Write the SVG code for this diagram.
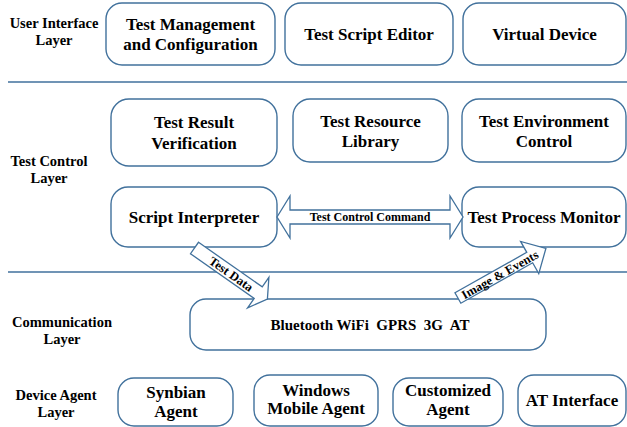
<svg xmlns="http://www.w3.org/2000/svg" width="627" height="427" viewBox="0 0 627 427">
  <style>
    .box { fill: #ffffff; stroke: #41719C; stroke-width: 1.4; }
    .sep { stroke: #41719C; stroke-width: 1.5; fill: none; }
    .arrow { fill: #ffffff; stroke: #41719C; stroke-width: 1.3; stroke-linejoin: miter; }
    text { font-family: "Liberation Serif", "Times New Roman", serif; font-weight: bold; fill: #000000; text-anchor: middle; }
    .node { font-size: 17px; }
    .layer { font-size: 14.5px; }
    .small { font-size: 12px; }
    .tag { font-size: 12.5px; }
    .comm { font-size: 15px; }
  </style>
  <rect width="627" height="427" fill="#ffffff"/>

  <!-- layer separators -->
  <g id="separators">
    <line class="sep" x1="8" y1="82" x2="627" y2="82"/>
    <line class="sep" x1="8" y1="272" x2="627" y2="272"/>
  </g>

  <!-- layer titles -->
  <g id="layer-labels">
    <text class="layer" x="54" y="28">User Interface</text>
    <text class="layer" x="54" y="45">Layer</text>
    <text class="layer" x="49" y="166">Test Control</text>
    <text class="layer" x="49" y="183">Layer</text>
    <text class="layer" x="62" y="327">Communication</text>
    <text class="layer" x="62" y="344">Layer</text>
    <text class="layer" x="56" y="400">Device Agent</text>
    <text class="layer" x="56" y="417">Layer</text>
  </g>

  <!-- user interface layer -->
  <g id="test-management">
    <rect class="box" x="106" y="3" width="169" height="62" rx="16"/>
    <text class="node" x="190.5" y="30">Test Management</text>
    <text class="node" x="190.5" y="50">and Configuration</text>
  </g>
  <g id="test-script-editor">
    <rect class="box" x="285" y="3" width="168" height="62" rx="16"/>
    <text class="node" x="369" y="40">Test Script Editor</text>
  </g>
  <g id="virtual-device">
    <rect class="box" x="463" y="3" width="163" height="62" rx="16"/>
    <text class="node" x="544.5" y="40">Virtual Device</text>
  </g>

  <!-- test control layer -->
  <g id="test-result-verification">
    <rect class="box" x="111" y="99" width="166" height="67" rx="18"/>
    <text class="node" x="194" y="128">Test Result</text>
    <text class="node" x="194" y="149">Verification</text>
  </g>
  <g id="test-resource-library">
    <rect class="box" x="293" y="99" width="155" height="63" rx="17"/>
    <text class="node" x="370.5" y="127">Test Resource</text>
    <text class="node" x="370.5" y="147">Library</text>
  </g>
  <g id="test-environment-control">
    <rect class="box" x="462" y="99" width="164" height="63" rx="17"/>
    <text class="node" x="544" y="127">Test Environment</text>
    <text class="node" x="544" y="147">Control</text>
  </g>
  <g id="script-interpreter">
    <rect class="box" x="111" y="187" width="166" height="60" rx="17"/>
    <text class="node" x="194" y="223">Script Interpreter</text>
  </g>
  <g id="test-process-monitor">
    <rect class="box" x="462" y="187" width="164" height="60" rx="17"/>
    <text class="node" x="544" y="223">Test Process Monitor</text>
  </g>

  <!-- communication layer -->
  <g id="communication">
    <rect class="box" x="190" y="299" width="356" height="51" rx="16"/>
    <text class="comm" x="370" y="330" xml:space="preserve">Bluetooth WiFi  GPRS  3G  AT</text>
  </g>

  <!-- device agent layer -->
  <g id="synbian-agent">
    <rect class="box" x="118" y="378" width="115" height="48" rx="16"/>
    <text class="node" x="176" y="398">Synbian</text>
    <text class="node" x="176" y="417">Agent</text>
  </g>
  <g id="windows-mobile-agent">
    <rect class="box" x="254" y="375" width="124" height="51" rx="16"/>
    <text class="node" x="316" y="396">Windows</text>
    <text class="node" x="316" y="414">Mobile Agent</text>
  </g>
  <g id="customized-agent">
    <rect class="box" x="393" y="378" width="110" height="48" rx="16"/>
    <text class="node" x="448" y="396">Customized</text>
    <text class="node" x="448" y="415">Agent</text>
  </g>
  <g id="at-interface">
    <rect class="box" x="518" y="375" width="108" height="51" rx="16"/>
    <text class="node" x="572" y="406">AT Interface</text>
  </g>

  <!-- connectors: block arrows -->
  <g id="connectors">
    <g id="test-control-command">
      <polygon class="arrow" points="277,217 290,196 290,210 450,210 450,196 463,217 450,238 450,224 290,224 290,238"/>
      <text class="small" x="370" y="221">Test Control Command</text>
    </g>
    <g id="test-data" transform="translate(194.5,248) rotate(35)">
      <polygon class="arrow" points="0,-7 77.8,-7 77.8,-18.6 89,0 77.8,18.6 77.8,7 0,7"/>
      <text class="tag" x="45" y="4.5">Test Data</text>
    </g>
    <g id="image-events" transform="translate(457.9,298) rotate(-29.4)">
      <polygon class="arrow" points="0,-6 82.4,-6 82.4,-18.5 101,0 82.4,18.5 82.4,6 0,6"/>
      <text class="tag" x="48" y="4.5">Image &amp; Events</text>
    </g>
  </g>
</svg>
